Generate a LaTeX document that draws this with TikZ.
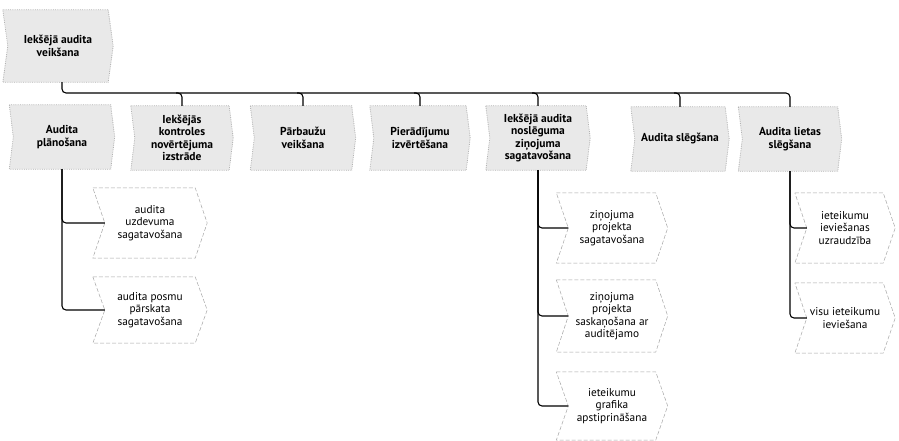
\documentclass[tikz,border=0pt]{standalone}
\usepackage{fontspec}
\setmainfont{PT Sans}
\usetikzlibrary{backgrounds}
\newcommand\chevshape[3]{%
  \path[#3] (#1.north west) -- ([xshift=-#2]#1.north east) -- (#1.east)
    -- ([xshift=-#2]#1.south east) -- (#1.south west) -- ([xshift=#2]#1.west) -- cycle;}
\begin{document}
\begin{tikzpicture}[x=1pt,y=-1pt,
  conn/.style={draw=black, line width=1.1pt, rounded corners=4pt},
  lvl/.style={rectangle, font=\bfseries\fontsize{11.5}{12.5}\selectfont, align=center,
    inner sep=0pt, minimum height=64pt},
  sub/.style={rectangle, font=\fontsize{11.3}{12.5}\selectfont, align=center,
    inner sep=0pt, minimum height=70pt, minimum width=112pt},
  lvlbox/.style={fill=gray!17, draw=gray!60, densely dotted, line width=0.8pt},
  subbox/.style={fill=white, draw=gray!70, dash pattern=on 4pt off 2pt, line width=0.5pt}]
\useasboundingbox (0,0) rectangle (899,440);

\node[lvl, minimum width=110pt, minimum height=72pt] (top) at (58,46) {Iekšējā audita\\veikšana};

\node[lvl, minimum width=105pt] (a1) at (62,137) {Audita\\plānošana};
\node[lvl, minimum width=102pt] (a2) at (182,138) {Iekšējās\\kontroles\\novērtējuma\\izstrāde};
\node[lvl, minimum width=105pt] (a3) at (303,138) {Pārbaužu\\veikšana};
\node[lvl, minimum width=100pt] (a4) at (420,138) {Pierādījumu\\izvērtēšana};
\node[lvl, minimum width=104pt] (a5) at (538,138) {Iekšējā audita\\noslēguma\\ziņojuma\\sagatavošana};
\node[lvl, minimum width=98pt] (a6) at (680,139) {Audita slēgšana};
\node[lvl, minimum width=103pt] (a7) at (790,139) {Audita lietas\\slēgšana};

\node[sub, minimum width=114pt] (p1) at (150,223) {audita\\uzdevuma\\sagatavošana};
\node[sub, minimum width=114pt, minimum height=66pt] (p2) at (150,310) {audita posmu\\pārskata\\sagatavošana};

\node[sub, minimum width=111pt] (z1) at (612,228) {ziņojuma\\projekta\\sagatavošana};
\node[sub, minimum width=111pt, minimum height=72pt] (z2) at (612,316) {ziņojuma\\projekta\\saskaņošana ar\\auditējamo};
\node[sub, minimum width=111pt, minimum height=68pt] (z3) at (612,406) {ieteikumu\\grafika\\apstiprināšana};

\node[sub, minimum width=100pt] (r1) at (845,228) {ieteikumu\\ieviešanas\\uzraudzība};
\node[sub, minimum width=100pt] (r2) at (845,318) {visu ieteikumu\\ieviešana};

\begin{scope}[on background layer]
  \chevshape{top}{5pt}{lvlbox}
  \foreach \n in {a1,a2,a3,a4,a5,a6,a7} {\chevshape{\n}{4pt}{lvlbox}}
  \foreach \n in {p1,p2,z1,z2,z3,r1,r2} {\chevshape{\n}{12pt}{subbox}}
\end{scope}

\coordinate (bl) at (62,93);
\draw[conn] (a1.north |- top.south) |- (a7.north |- bl) -- (a7.north);
\foreach \n in {a2,a3,a4,a5,a6}
  \draw[conn] ([xshift=-6pt]\n.north |- bl) -| (\n.north);

\draw[conn] (a1.south) |- ([xshift=12pt]p1.west);
\draw[conn] (a1.south) |- ([xshift=12pt]p2.west);
\draw[conn] (a5.south) |- ([xshift=12pt]z1.west);
\draw[conn] (a5.south) |- ([xshift=12pt]z2.west);
\draw[conn] (a5.south) |- ([xshift=12pt]z3.west);
\draw[conn] (a7.south) |- ([xshift=12pt]r1.west);
\draw[conn] (a7.south) |- ([xshift=12pt]r2.west);
\end{tikzpicture}
\end{document}
